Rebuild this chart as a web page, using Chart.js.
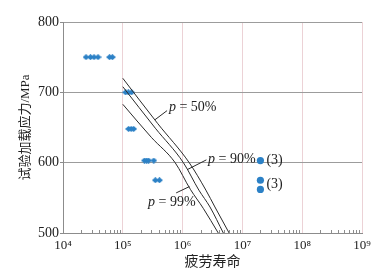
<!DOCTYPE html>
<html>
<head>
<meta charset="utf-8">
<script src="https://cdn.jsdelivr.net/npm/chart.js@4"></script>
<style>
  html, body { margin: 0; padding: 0; background: #fff; }
  #chart { display: block; }
</style>
</head>
<body>
<canvas id="chart" width="391" height="278"></canvas>
<script>
// Test points (failed specimens): life in cycles, stress in MPa
const failLife = [2.43e4, 2.88e4, 3.3e4, 3.85e4, 6.0e4, 6.7e4,
                  1.11e5, 1.24e5, 1.4e5,
                  1.25e5, 1.38e5, 1.52e5,
                  2.3e5, 2.5e5, 2.7e5, 3.3e5,
                  3.5e5, 4.1e5];
const failStress = [750, 750, 750, 750, 750, 750,
                    700, 700, 700,
                    648, 648, 648,
                    603, 603, 603, 603,
                    575, 575];
// Run-outs at 2e7 cycles
const runoutLife = [2e7, 2e7, 2e7];
const runoutStress = [603, 575, 562];

// P-S-N curves
const p50Life = [1e5, 3.8e5, 1.29e6, 2.45e6, 3.47e6, 6.0e6];
const p50Stress = [720, 656, 600, 561, 537, 500];
const p90Life = [1e5, 3.5e5, 1.03e6, 1.87e6, 2.87e6, 4.8e6];
const p90Stress = [708, 649, 600, 561, 537, 500];
const p99Life = [1e5, 3.0e5, 7.5e5, 1.35e6, 2.22e6, 3.95e6];
const p99Stress = [683, 636, 600, 562, 535, 500];

const xTicks = [1e4, 1e5, 1e6, 1e7, 1e8, 1e9];
const xTickLabels = ['10⁴', '10⁵', '10⁶', '10⁷', '10⁸', '10⁹'];
const runoutNotes = ['(3)', '(3)'];
const runoutNoteStress = [603, 568.5];

const blue = '#2c81c6';
const serif = '"Liberation Serif", "Times New Roman", serif';

// leader-line labels for the curves (data coordinates)
const curveLabels = [
  { text: '50%', at: [5.9e5, 678], from: [5.5e5, 674], to: [3.45e5, 661] },
  { text: '90%', at: [2.66e6, 605], from: [2.5e6, 604], to: [1.19e6, 590] },
  { text: '99%', at: [2.64e5, 543], from: [7.8e5, 557], to: [1.3e6, 566] }
];

// squashed diamond marker
const diamond = document.createElement('canvas');
diamond.width = 7; diamond.height = 6;
(() => {
  const c = diamond.getContext('2d');
  c.fillStyle = blue;
  c.beginPath();
  c.moveTo(3.5, 0); c.lineTo(7, 3); c.lineTo(3.5, 6); c.lineTo(0, 3);
  c.closePath(); c.fill();
})();

const toPts = (xs, ys) => xs.map((x, i) => ({ x: x, y: ys[i] }));

const curve = (xs, ys) => ({
  data: toPts(xs, ys),
  showLine: true,
  borderColor: '#2a2a2a',
  borderWidth: 1,
  pointRadius: 0,
  cubicInterpolationMode: 'monotone',
  fill: false
});

const notes = {
  id: 'notes',
  afterDatasetsDraw(chart) {
    const { ctx, chartArea } = chart;
    const x = chart.scales.x, y = chart.scales.y;
    ctx.save();
    // minor ticks along the bottom axis
    ctx.strokeStyle = '#8c8c8c';
    ctx.lineWidth = 1;
    for (let e = 4; e < 9; e++) {
      for (let k = 2; k < 10; k++) {
        const px = Math.round(x.getPixelForValue(k * Math.pow(10, e))) + 0.5;
        ctx.beginPath();
        ctx.moveTo(px, chartArea.bottom);
        ctx.lineTo(px, chartArea.bottom - 3);
        ctx.stroke();
      }
    }
    // curve labels
    ctx.strokeStyle = '#2a2a2a';
    ctx.fillStyle = '#222';
    ctx.textBaseline = 'middle';
    ctx.textAlign = 'left';
    curveLabels.forEach(l => {
      ctx.beginPath();
      ctx.moveTo(x.getPixelForValue(l.from[0]), y.getPixelForValue(l.from[1]));
      ctx.lineTo(x.getPixelForValue(l.to[0]), y.getPixelForValue(l.to[1]));
      ctx.stroke();
      let tx = x.getPixelForValue(l.at[0]);
      const ty = y.getPixelForValue(l.at[1]);
      ctx.font = 'italic 14px ' + serif;
      ctx.fillText('p', tx, ty);
      tx += ctx.measureText('p').width;
      ctx.font = '14px ' + serif;
      ctx.fillText(' = ' + l.text, tx, ty);
    });
    // run-out counts
    runoutNotes.forEach((t, i) => {
      ctx.fillText(t, x.getPixelForValue(runoutLife[0]) + 6, y.getPixelForValue(runoutNoteStress[i]));
    });
    ctx.restore();
  }
};

new Chart(document.getElementById('chart'), {
  type: 'scatter',
  data: {
    datasets: [
      curve(p50Life, p50Stress),
      curve(p90Life, p90Stress),
      curve(p99Life, p99Stress),
      {
        data: toPts(failLife, failStress),
        pointStyle: diamond,
        pointRadius: 3.5,
        backgroundColor: blue,
        borderWidth: 0
      },
      {
        data: toPts(runoutLife, runoutStress),
        pointStyle: 'circle',
        pointRadius: 3.6,
        backgroundColor: blue,
        borderWidth: 0
      }
    ]
  },
  options: {
    responsive: false,
    animation: false,
    layout: { padding: { top: 22, right: 29, left: 0, bottom: 0 } },
    plugins: { legend: { display: false }, tooltip: { enabled: false } },
    scales: {
      x: {
        type: 'logarithmic',
        min: 1e4,
        max: 1e9,
        afterBuildTicks: s => { s.ticks = xTicks.map(v => ({ value: v })); },
        afterFit: s => { s.height = 45; },
        ticks: {
          callback: (v, i) => xTickLabels[i],
          font: { family: serif, size: 13 },
          color: '#222',
          padding: 5,
          maxRotation: 0,
          autoSkip: false
        },
        grid: { color: '#ecd2d6', drawTicks: false },
        border: { color: '#8c8c8c' },
        title: {
          display: true,
          text: '疲劳寿命',
          font: { family: serif + ', "Noto Sans CJK SC"', size: 14 },
          color: '#222',
          padding: { top: 0, bottom: 7 }
        }
      },
      y: {
        min: 500,
        max: 800,
        afterFit: s => { s.width = 63; },
        ticks: {
          stepSize: 100,
          font: { family: serif, size: 14 },
          color: '#222',
          padding: 1
        },
        grid: { color: '#9c9c9c', tickLength: 3, tickColor: '#8c8c8c' },
        border: { color: '#8c8c8c' },
        title: {
          display: true,
          text: '试验加载应力/MPa',
          font: { family: serif + ', "Noto Sans CJK SC"', size: 13 },
          color: '#222',
          padding: { top: 18, bottom: 0 }
        }
      }
    }
  },
  plugins: [notes]
});
</script>
</body>
</html>
